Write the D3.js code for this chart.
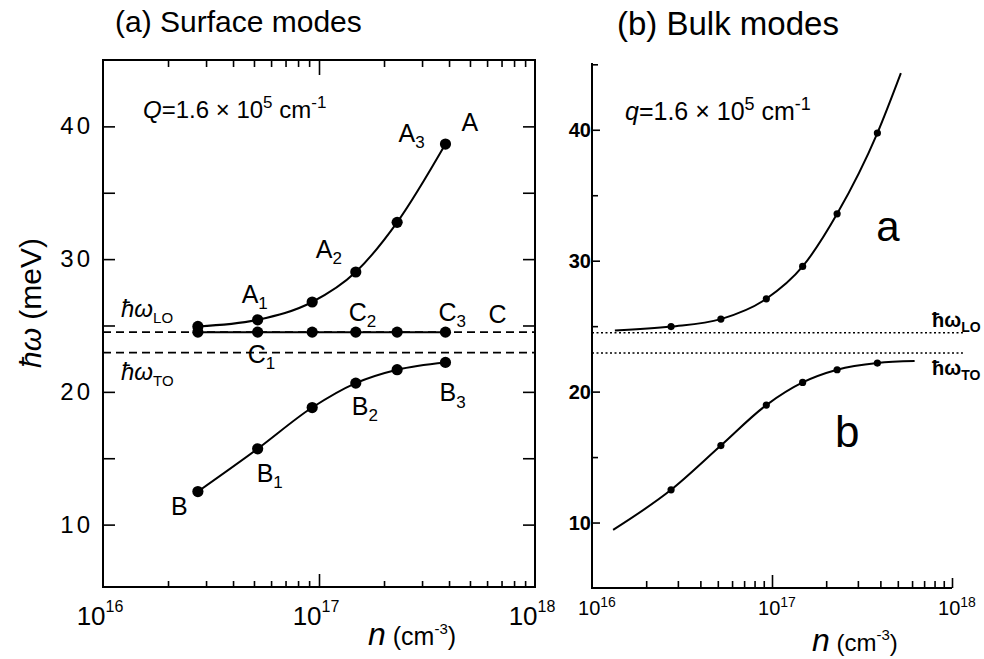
<!DOCTYPE html>
<html>
<head>
<meta charset="utf-8">
<title>Surface and bulk plasmon-phonon modes</title>
<script src="https://d3js.org/d3.v7.min.js"></script>
<style>
  body { margin: 0; background: #fff; }
  svg { font-family: "Liberation Sans", Arial, sans-serif; }
</style>
</head>
<body>
<script>
// carrier densities (cm^-3) of the marked points, both panels
const densities = [2.75e16, 5.2e16, 9.3e16, 1.48e17, 2.3e17, 3.85e17];

// (a) surface modes, energies in meV
const surfaceA = [24.93, 25.43, 26.77, 29.03, 32.77, 38.67];
const surfaceB = [12.49, 15.71, 18.82, 20.66, 21.67, 22.22];
const surfaceC = [24.5, 24.5, 24.5, 24.5, 24.5, 24.5];

// (b) bulk modes, energies in meV
const bulkA = [24.97, 25.54, 27.09, 29.56, 33.58, 39.75];
const bulkB = [12.50, 15.88, 18.97, 20.70, 21.67, 22.18];
// where the bulk curves run past the marked points [n, meV]
const bulkAEnds = [[1.34e16, 24.67], [5.2e17, 44.33]];
const bulkBEnds = [[1.31e16, 9.44], [6.2e17, 22.33]];

// phonon energies (meV)
const hwLO = 24.5;
const hwTO = 22.95;

// axis ticks
const yMajor = [10, 20, 30, 40];
const yMinor = [15, 25, 35];
const xDecades = [16, 17, 18];

const W = 984, H = 659;
const svg = d3.select("body").append("svg")
    .attr("width", W)
    .attr("height", H);

// scales
const xa = d3.scaleLog().domain([1e16, 1e18]).range([103, 535]);
const ya = d3.scaleLinear().domain([5.3, 45]).range([587, 60]);
const xb = d3.scaleLog().domain([1e16, 1e18]).range([592, 952]);
const yb = d3.scaleLinear().domain([5, 45.1]).range([588, 63]);

// minor log ticks 2..9 in each decade
const xMinor = [];
[1e16, 1e17].forEach(d => { for (let k = 2; k <= 9; k++) xMinor.push(k * d); });

const line = (x, y) => d3.line()
    .x(d => x(d[0]))
    .y(d => y(d[1]))
    .curve(d3.curveMonotoneX);

function decadeLabel(g, x, y, exp, size, supSize, dyUp) {
  const t = g.append("text")
      .attr("x", x).attr("y", y)
      .attr("text-anchor", "middle")
      .style("font-size", size + "px");
  t.append("tspan").text("10");
  t.append("tspan").attr("dy", -dyUp).style("font-size", supSize + "px").text(exp);
}

// ---------------- (a) Surface modes ----------------
const ga = svg.append("g");

ga.append("text")
    .attr("x", 115).attr("y", 32)
    .style("font-size", "30px")
    .text("(a) Surface modes");

// frame
ga.append("rect")
    .attr("x", xa.range()[0]).attr("y", ya.range()[1])
    .attr("width", xa.range()[1] - xa.range()[0])
    .attr("height", ya.range()[0] - ya.range()[1])
    .attr("fill", "none").attr("stroke", "#000").attr("stroke-width", 2);

// inward ticks on all four sides
function ticks(g, axis, transform) {
  g.append("g").attr("transform", transform).call(axis)
    .call(s => s.select(".domain").remove())
    .call(s => s.selectAll("line").attr("stroke-width", 1.6));
}
const yTop = ya.range()[1], yBot = ya.range()[0];
const xL = xa.range()[0], xR = xa.range()[1];
ticks(ga, d3.axisBottom(xa).tickValues(xMinor).tickSize(-6).tickFormat(""), `translate(0,${yBot})`);
ticks(ga, d3.axisBottom(xa).tickValues([1e17]).tickSize(-13).tickFormat(""), `translate(0,${yBot})`);
ticks(ga, d3.axisTop(xa).tickValues(xMinor).tickSize(-7).tickFormat(""), `translate(0,${yTop})`);
ticks(ga, d3.axisTop(xa).tickValues([1e17]).tickSize(-15).tickFormat(""), `translate(0,${yTop})`);
ticks(ga, d3.axisLeft(ya).tickValues(yMajor.concat(yMinor)).tickSize(-12).tickFormat(""), `translate(${xL},0)`);
ticks(ga, d3.axisRight(ya).tickValues(yMajor.concat(yMinor)).tickSize(-12).tickFormat(""), `translate(${xR},0)`);

// tick labels
ga.selectAll(".ylab").data(yMajor).enter().append("text")
    .attr("x", xL - 10).attr("y", d => ya(d) + 8)
    .attr("text-anchor", "end")
    .style("font-size", "24px").style("letter-spacing", "3px")
    .text(d => d);
xDecades.forEach(e => decadeLabel(ga, xa(Math.pow(10, e)) - 3, 625, e, 26, 16, 13));

// axis titles
ga.append("text")
    .attr("transform", `translate(41,303) rotate(-90)`)
    .attr("text-anchor", "middle")
    .style("font-size", "30px")
    .call(t => {
      t.append("tspan").style("font-style", "italic").text("ħω");
      t.append("tspan").text(" (meV)");
    });
ga.append("text")
    .attr("x", 368).attr("y", 645)
    .call(t => {
      t.append("tspan").style("font-style", "italic").style("font-size", "32px").text("n");
      t.append("tspan").style("font-size", "25px").text(" (cm");
      t.append("tspan").attr("dy", -11).style("font-size", "15px").text("-3");
      t.append("tspan").attr("dy", 11).style("font-size", "25px").text(")");
    });

ga.append("text")
    .attr("x", 143).attr("y", 118)
    .style("font-size", "24px")
    .call(t => {
      t.append("tspan").style("font-style", "italic").text("Q");
      t.append("tspan").text("=1.6 × 10");
      t.append("tspan").attr("dy", -10).style("font-size", "17px").text("5");
      t.append("tspan").attr("dy", 10).text(" cm");
      t.append("tspan").attr("dy", -10).style("font-size", "17px").text("-1");
    });

// phonon lines
[hwLO, hwTO].forEach(v => {
  ga.append("line")
      .attr("x1", xL).attr("x2", xR)
      .attr("y1", ya(v)).attr("y2", ya(v))
      .attr("stroke", "#000").attr("stroke-width", 1.8)
      .attr("stroke-dasharray", "8,5");
});

function subLabel(g, x, y, main, sub, size, subSize, italic) {
  const t = g.append("text").attr("x", x).attr("y", y).style("font-size", size + "px");
  const m = t.append("tspan").text(main);
  if (italic) m.style("font-style", "italic");
  if (sub) t.append("tspan").attr("dy", size * 0.25).style("font-size", subSize + "px").text(sub);
  return t;
}
subLabel(ga, xL + 18, ya(hwLO) - 15, "ħω", "LO", 24, 15, true);
subLabel(ga, xL + 18, ya(hwTO) + 27, "ħω", "TO", 24, 15, true);

// curves and points
const surf = [surfaceA, surfaceB, surfaceC].map(s => densities.map((n, i) => [n, s[i]]));
surf.forEach(pts => {
  ga.append("path")
      .attr("d", line(xa, ya)(pts))
      .attr("fill", "none").attr("stroke", "#000").attr("stroke-width", 2);
  ga.selectAll(null).data(pts).enter().append("circle")
      .attr("cx", d => xa(d[0])).attr("cy", d => ya(d[1]))
      .attr("r", 5.6).attr("fill", "#000");
});

// mode labels, placed next to their points
const P = (s, i) => [xa(densities[i]), ya(s[i])];
const lab = (s, i, dx, dy, main, sub) => {
  const [px, py] = P(s, i);
  subLabel(ga, px + dx, py + dy, main, sub, 25, 17, false);
};
lab(surfaceA, 1, -16, -17, "A", "1");
lab(surfaceA, 3, -40, -14, "A", "2");
lab(surfaceA, 5, -47, -2, "A", "3");
lab(surfaceA, 5, 16, -13, "A", "");
lab(surfaceC, 1, -10, 31, "C", "1");
lab(surfaceC, 3, -7, -11, "C", "2");
lab(surfaceC, 5, -7, -11, "C", "3");
lab(surfaceC, 5, 43, -9, "C", "");
lab(surfaceB, 0, -27, 23, "B", "");
lab(surfaceB, 1, -1, 33, "B", "1");
lab(surfaceB, 3, -4, 32, "B", "2");
lab(surfaceB, 5, -6, 39, "B", "3");

// ---------------- (b) Bulk modes ----------------
const gb = svg.append("g");

gb.append("text")
    .attr("x", 617).attr("y", 35)
    .style("font-size", "33px")
    .text("(b) Bulk modes");

const bL = xb.range()[0], bR = xb.range()[1];
const bTop = yb.range()[1], bBot = yb.range()[0];

gb.append("path")
    .attr("d", `M${bL},${bTop}V${bBot}H${bR}`)
    .attr("fill", "none").attr("stroke", "#000").attr("stroke-width", 2);

ticks(gb, d3.axisBottom(xb).tickValues(xMinor).tickSize(-7).tickFormat(""), `translate(0,${bBot})`);
ticks(gb, d3.axisBottom(xb).tickValues([1e17]).tickSize(-13).tickFormat(""), `translate(0,${bBot})`);
ticks(gb, d3.axisBottom(xb).tickValues([1e18]).tickSize(-10).tickFormat(""), `translate(0,${bBot})`);
ticks(gb, d3.axisLeft(yb).tickValues(yMajor).tickSize(-8).tickFormat(""), `translate(${bL},0)`);
ticks(gb, d3.axisLeft(yb).tickValues(yMinor.concat([45])).tickSize(-6).tickFormat(""), `translate(${bL},0)`);

gb.selectAll(".ylab").data(yMajor).enter().append("text")
    .attr("x", bL - 1).attr("y", d => yb(d) + 7)
    .attr("text-anchor", "end")
    .style("font-size", "20px").style("font-weight", "bold")
    .text(d => d);
xDecades.forEach(e => decadeLabel(gb, xb(Math.pow(10, e)) + 5, 615, e, 20, 14, 8));

gb.append("text")
    .attr("x", 812).attr("y", 651)
    .call(t => {
      t.append("tspan").style("font-style", "italic").style("font-size", "32px").text("n");
      t.append("tspan").style("font-size", "24px").text(" (cm");
      t.append("tspan").attr("dy", -11).style("font-size", "15px").text("-3");
      t.append("tspan").attr("dy", 11).style("font-size", "24px").text(")");
    });

gb.append("text")
    .attr("x", 625).attr("y", 120)
    .style("font-size", "25px")
    .call(t => {
      t.append("tspan").style("font-style", "italic").text("q");
      t.append("tspan").text("=1.6 × 10");
      t.append("tspan").attr("dy", -10).style("font-size", "18px").text("5");
      t.append("tspan").attr("dy", 10).text(" cm");
      t.append("tspan").attr("dy", -10).style("font-size", "18px").text("-1");
    });

[hwLO, hwTO].forEach(v => {
  gb.append("line")
      .attr("x1", bL).attr("x2", xb(1.15e18))
      .attr("y1", yb(v)).attr("y2", yb(v))
      .attr("stroke", "#000").attr("stroke-width", 1.6)
      .attr("stroke-dasharray", "2,2.5");
});
subLabel(gb, 932, yb(hwLO) - 6, "ħω", "LO", 20, 14, false).style("font-weight", "bold");
subLabel(gb, 932, yb(hwTO) + 22, "ħω", "TO", 20, 14, false).style("font-weight", "bold");

[[bulkA, bulkAEnds], [bulkB, bulkBEnds]].forEach(([s, ends]) => {
  const pts = densities.map((n, i) => [n, s[i]]);
  gb.append("path")
      .attr("d", line(xb, yb)([ends[0]].concat(pts, [ends[1]])))
      .attr("fill", "none").attr("stroke", "#000").attr("stroke-width", 2);
  gb.selectAll(null).data(pts).enter().append("circle")
      .attr("cx", d => xb(d[0])).attr("cy", d => yb(d[1]))
      .attr("r", 3.6).attr("fill", "#000");
});

gb.append("text").attr("x", xb(3.8e17)).attr("y", yb(31.5))
    .style("font-size", "42px").text("a");
gb.append("text").attr("x", xb(2.24e17)).attr("y", yb(15.8))
    .style("font-size", "44px").text("b");
</script>
</body>
</html>
